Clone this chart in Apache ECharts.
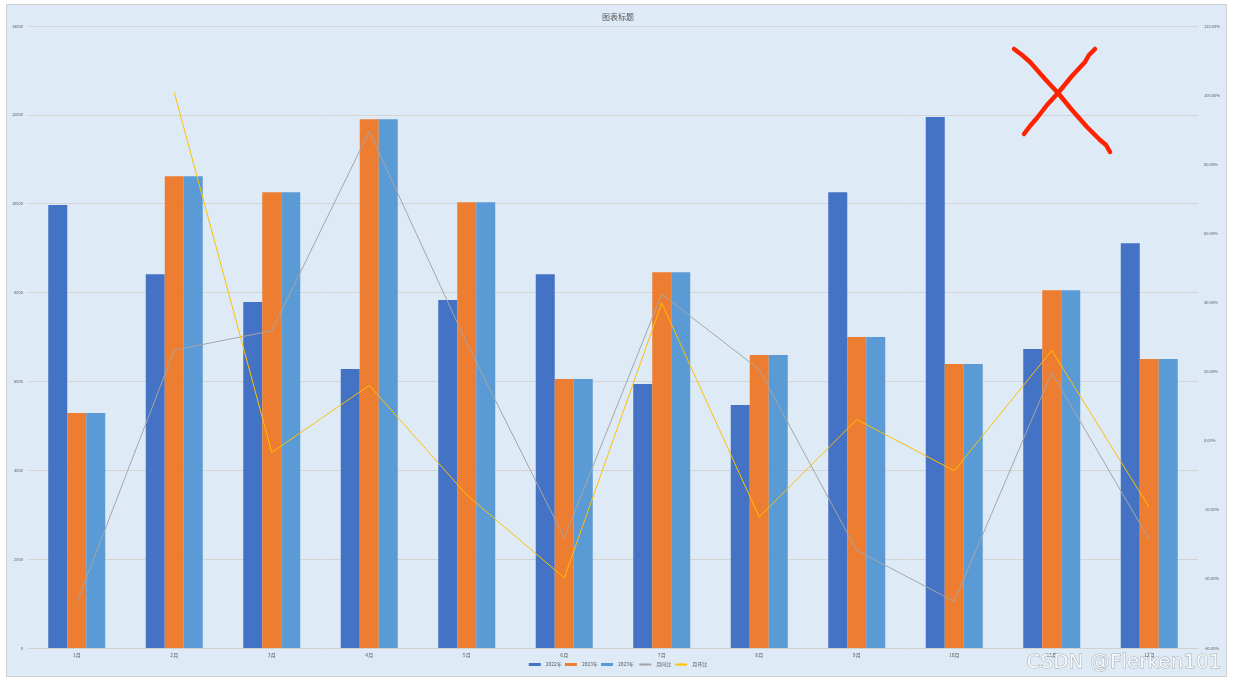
<!DOCTYPE html>
<html>
<head>
<meta charset="utf-8">
<script src="https://cdn.jsdelivr.net/npm/echarts@6/dist/echarts.min.js"></script>
<style>
html,body{margin:0;padding:0;background:#fff;}
#box{position:absolute;left:6px;top:4px;width:1219px;height:671px;background:#DEEBF7;border:1px solid #D0D0D0;}
#chart{position:absolute;left:0;top:0;width:1236px;height:684px;}
</style>
</head>
<body>
<div id="box"></div>
<div id="chart"></div>
<script>
const categories = ['1月','2月','3月','4月','5月','6月','7月','8月','9月','10月','11月','12月'];
const s2022 = [9970, 8415, 7785, 6280, 7830, 8415, 5940, 5470, 10260, 11950, 6730, 9110];
const s2023 = [5290, 10620, 10260, 11900, 10035, 6055, 8460, 6595, 7000, 6390, 8055, 6505];
const s2023b = [5290, 10620, 10260, 11900, 10035, 6055, 8460, 6595, 7000, 6390, 8055, 6505];
const yoy = [-46.9, 26.2, 31.8, 89.5, 28.2, -28.1, 42.4, 20.6, -31.8, -46.5, 19.7, -28.6];
const mom = [null, 100.8, -3.4, 16.0, -15.7, -39.7, 39.8, -22.1, 6.1, -8.7, 26.1, -19.3];
const leftTicks = {min: 0, max: 14000, interval: 2000};
const rightTicks = {min: -60, max: 120, interval: 20};

const chart = echarts.init(document.getElementById('chart'), null, {renderer: 'canvas'});
const lblColor = '#595959';
const fontFam = '"Noto Sans CJK SC", "DejaVu Sans", sans-serif';
chart.setOption({
  backgroundColor: 'transparent',
  animation: false,
  textStyle: {fontFamily: fontFam},
  title: {
    text: '图表标题', left: 'center', top: 8,
    textStyle: {fontSize: 8, fontWeight: 'normal', color: '#595959', fontFamily: fontFam}
  },
  legend: {
    bottom: 12, left: 'center', itemWidth: 12, itemHeight: 3, itemGap: 3,
    textStyle: {fontSize: 5, color: lblColor, fontFamily: fontFam},
    data: [
      {name: '2022年', icon: 'rect'},
      {name: '2023年', icon: 'rect'},
      {name: '2023年 ', icon: 'rect'},
      {name: '月同比'},
      {name: '月环比'}
    ]
  },
  grid: {left: 28, right: 38, top: 26, bottom: 36},
  xAxis: {
    type: 'category', data: categories,
    axisLine: {lineStyle: {color: '#D0D0D0', width: 1}},
    axisTick: {show: false},
    axisLabel: {fontSize: 5, color: lblColor, margin: 5}
  },
  yAxis: [
    {
      type: 'value', min: leftTicks.min, max: leftTicks.max, interval: leftTicks.interval,
      axisLine: {show: false}, axisTick: {show: false},
      axisLabel: {fontSize: 4, color: lblColor, margin: 5, formatter: v => String(v)},
      splitLine: {lineStyle: {color: '#D4D4D4', width: 1}}
    },
    {
      type: 'value', min: rightTicks.min, max: rightTicks.max, interval: rightTicks.interval,
      axisLine: {show: false}, axisTick: {show: false}, splitLine: {show: false},
      axisLabel: {fontSize: 4, color: lblColor, margin: 6, formatter: v => v.toFixed(2) + '%'}
    }
  ],
  series: [
    {name: '2022年', type: 'bar', data: s2022, barWidth: 19, barGap: '0%', itemStyle: {color: '#4472C4'}},
    {name: '2023年', type: 'bar', data: s2023, barWidth: 19, barGap: '0%', itemStyle: {color: '#ED7D31'}},
    {name: '2023年 ', type: 'bar', data: s2023b, barWidth: 19, barGap: '0%', itemStyle: {color: '#5B9BD5'}},
    {name: '月同比', type: 'line', yAxisIndex: 1, data: yoy, symbol: 'none', lineStyle: {color: '#A5A5A5', width: 1}, itemStyle: {color: '#A5A5A5'}},
    {name: '月环比', type: 'line', yAxisIndex: 1, data: mom, symbol: 'none', lineStyle: {color: '#FFC000', width: 1}, itemStyle: {color: '#FFC000'}}
  ],
  graphic: [
    {type: 'polyline', z: 100, shape: {points: [[1014,49],[1022,55],[1030,62],[1045,79],[1058,93],[1072,110],[1087,127],[1100,140],[1106,145],[1110,152]]},
     style: {stroke: '#FF2200', lineWidth: 4.5, fill: null, lineCap: 'round', lineJoin: 'round'}},
    {type: 'polyline', z: 100, shape: {points: [[1095,49],[1089,55],[1085,62],[1072,76],[1058,93],[1047,105],[1037,118],[1030,126],[1024,134]]},
     style: {stroke: '#FF2200', lineWidth: 4.5, fill: null, lineCap: 'round', lineJoin: 'round'}},
    {type: 'text', z: 100, left: 1026, top: 652,
     style: {text: 'CSDN @Flerken101', fontSize: 20, fontFamily: '"DejaVu Sans", sans-serif', fill: 'rgba(255,255,255,0.85)', stroke: 'rgba(120,120,120,0.55)', lineWidth: 1}}
  ]
});
</script>
</body>
</html>
